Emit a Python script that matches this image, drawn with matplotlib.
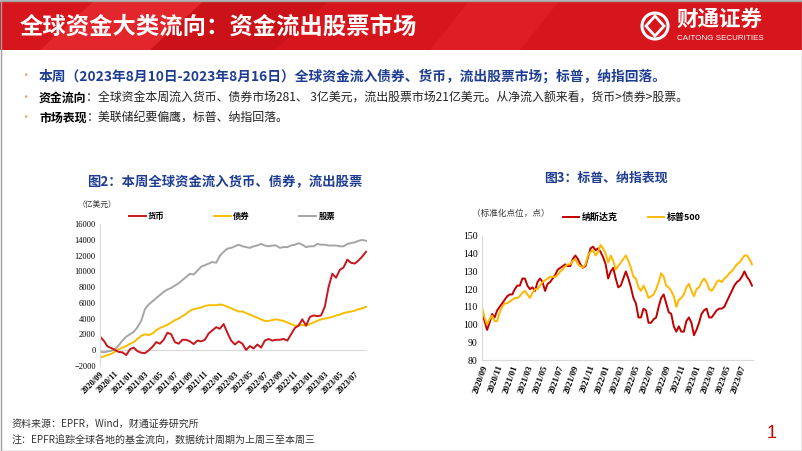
import pandas as pd
import matplotlib
matplotlib.use("Agg")
from matplotlib import pyplot as plt
from matplotlib import dates as mdates
from matplotlib.patches import Rectangle, Polygon, Circle

plt.rcParams['font.family'] = ['Noto Sans CJK SC', 'DejaVu Sans']

# ---- data: 图2 资金流向 (亿美元), semi-monthly readings 2020/09 - 2023/08/16
flow_dates = pd.date_range('2020-09-01', '2023-08-16', periods=72)
money = [1700, 1200, 450, 250, 0, -250, -300, -650, 100, 300,
         -150, -350, -400, -50, 400, 1000, 800, 1300, 2200, 2000,
         1000, 800, 1300, 1300, 1100, 750, 1200, 1100, 1300, 2100,
         2500, 2900, 2700, 3300, 2200, 1200, 700, 1100, 800, 0,
         500, 200, 700, 300, 1200, 1400, 1200, 1300, 1300, 1400,
         1200, 2000, 2800, 3100, 3900, 3100, 4200, 4400, 4300, 4400,
         5500, 8000, 9700, 9200, 10200, 10500, 11500, 11100, 11000, 11400,
         11900, 12500]
bond = [-1000, -800, -650, -500, -200, 100, 300, 500, 800, 1000,
        1400, 1800, 2000, 1900, 2100, 2500, 2800, 3000, 3200, 3500,
        3800, 4000, 4300, 4600, 5000, 5200, 5300, 5400, 5600, 5700,
        5700, 5700, 5800, 5700, 5500, 5300, 5100, 4900, 4900, 4700,
        4500, 4300, 4100, 3900, 3700, 3700, 3800, 3900, 3800, 3700,
        3500, 3300, 3100, 3100, 3200, 3100, 3300, 3500, 3700, 3900,
        4000, 4100, 4200, 4400, 4500, 4700, 4800, 4900, 5000, 5200,
        5300, 5500]
equity = [-200, -300, -200, -100, 100, 600, 1200, 1700, 2000, 2300,
          2900, 3700, 5200, 5800, 6200, 6600, 7000, 7400, 7700, 7900,
          8200, 8500, 8900, 9300, 9700, 9600, 10100, 10600, 10800, 11000,
          11200, 11100, 12000, 12500, 12900, 13000, 13200, 13400, 13200, 13100,
          13000, 13200, 13300, 13500, 13300, 13200, 13300, 13300, 13000, 13100,
          13100, 13300, 13400, 13600, 13400, 13100, 13200, 13200, 13500, 13400,
          13400, 13300, 13300, 13300, 13200, 13200, 13500, 13600, 13700, 13900,
          14000, 13900]
flow_labels = ['货币', '债券', '股票']

# ---- data: 图3 标普、纳指 (标准化点位)
idx_dates = pd.date_range('2020-09-01', '2023-08-16', periods=108)
nasdaq = [106.5, 102, 97, 101, 106, 104, 108, 110, 112, 114,
          116, 117, 117, 120, 122, 122, 126, 126, 122, 120,
          121, 119, 124, 126, 124, 119, 123, 124, 126, 128,
          131, 132, 133, 134, 133, 133, 137, 139, 137, 134,
          132, 133, 138, 143, 144, 142, 143, 141, 138, 134,
          126, 130, 132, 126, 121, 122, 126, 130, 126, 121,
          115, 112, 104, 104, 109, 108, 101, 101, 103, 104,
          110, 115, 117, 112, 107, 106, 99, 96, 99, 96,
          96, 102, 104, 101, 94, 97, 101, 106, 108, 109,
          104, 104, 106, 108, 109, 109, 110, 113, 116, 119,
          122, 124, 125, 127, 130, 127, 125, 122]
spx = [110, 104, 100, 103, 105, 102, 102, 107, 110, 112,
       112, 113, 114, 115, 115, 116, 118, 119, 117, 115,
       118, 120, 120, 122, 124, 125, 126, 127, 127, 127,
       128, 130, 131, 133, 134, 134, 136, 137, 134, 133,
       132, 134, 139, 141, 142, 139, 141, 145, 143, 140,
       135, 139, 136, 131, 133, 135, 137, 139, 136, 132,
       127, 126, 121, 119, 122, 119, 115, 116, 117, 120,
       124, 129, 127, 122, 121, 119, 116, 110, 114, 115,
       117, 121, 123, 119, 116, 120, 121, 124, 126, 124,
       120, 119, 121, 124, 125, 124, 126, 127, 129, 130,
       132, 134, 135, 137, 139, 139, 137, 134]
idx_labels = ['纳斯达克', '标普500']

tick_dates = pd.date_range('2020-09-01', '2023-07-01', freq='2MS')

BLUE = '#1F3E93'
W, H = 802, 451


def fx(x):
    return x / W


def fy(y):
    return 1 - y / H


fig = plt.figure(figsize=(8.02, 4.51), dpi=100)

# background layer in pixel coords
bg = fig.add_axes([0, 0, 1, 1], zorder=0)
bg.set_xlim(0, W)
bg.set_ylim(H, 0)
bg.axis('off')

bg.add_patch(Rectangle((0, 0), W, 50, color='#D7151C', lw=0))
bg.add_patch(Polygon([(95, 0), (205, 0), (150, 50), (40, 50)], color='#E3262B', lw=0))
bg.add_patch(Polygon([(205, 0), (330, 0), (275, 50), (150, 50)], color='#CC1219', lw=0))
bg.add_patch(Polygon([(470, 0), (560, 0), (520, 50), (430, 50)], color='#DE1E24', lw=0))
bg.add_patch(Rectangle((0, 0), W, 2, color='#B8B8B8', lw=0))
bg.text(20, 27, '全球资金大类流向：资金流出股票市场', color='white', fontsize=16.8,
        weight='bold', va='center', ha='left')

# logo
bg.add_patch(Circle((655, 26), 13, fill=False, ec='white', lw=2.2))
bg.add_patch(Polygon([(655, 16), (664, 26), (655, 36), (646, 26)], fill=False, ec='white', lw=2))
bg.text(676, 19, '财通证券', color='white', fontsize=15.5, weight='bold', va='center', ha='left')
bg.text(677, 38, 'CAITONG SECURITIES', color='white', fontsize=5.8, va='center', ha='left',
        family=['Liberation Sans', 'DejaVu Sans'])

# bullets
for yy in (76, 98, 118):
    bg.text(25, yy, '•', color='#E8A66A', fontsize=9, va='center', ha='center')
bg.text(39, 76, '本周（2023年8月10日-2023年8月16日）全球资金流入债券、货币，流出股票市场；标普，纳指回落。',
        color=BLUE, fontsize=9.9, weight='bold', va='center', ha='left')
t2 = bg.text(39, 98, '资金流向', color='black', fontsize=8.6, weight='bold', va='center', ha='left')
bg.annotate('：全球资金本周流入货币、债券市场281、 3亿美元，流出股票市场21亿美元。从净流入额来看，货币>债券>股票。',
            xy=(1, 0.5), xycoords=t2, fontsize=8.6, va='center', ha='left', color='#222222')
t3 = bg.text(39, 118, '市场表现', color='black', fontsize=8.6, weight='bold', va='center', ha='left')
bg.annotate('：美联储纪要偏鹰，标普、纳指回落。',
            xy=(1, 0.5), xycoords=t3, fontsize=8.6, va='center', ha='left', color='#222222')

# chart titles
bg.text(225, 182, '图2：本周全球资金流入货币、债券，流出股票', color=BLUE, fontsize=9.6,
        weight='bold', va='center', ha='center')
bg.text(606, 178, '图3：标普、纳指表现', color=BLUE, fontsize=9.3,
        weight='bold', va='center', ha='center')
bg.text(78, 205, '（亿美元）', fontsize=5.6, va='center', ha='left', color='#333333')
bg.text(472, 213, '（标准化点位，点）', fontsize=6.2, va='center', ha='left', color='#333333')

# footer
bg.text(12, 424, '资料来源：EPFR，Wind，财通证券研究所', fontsize=7.2, va='center', ha='left', color='#333333')
bg.text(12, 441, '注：EPFR追踪全球各地的基金流向，数据统计周期为上周三至本周三', fontsize=7.2,
        va='center', ha='left', color='#333333')
bg.text(772, 434, '1', fontsize=13, color='#C00000', va='center', ha='center',
        family=['Liberation Sans', 'DejaVu Sans'])
bg.add_patch(Rectangle((0.5, 0.5), W - 1, H - 1, fill=False, ec='#A0A0A0', lw=1))

serif = ['Liberation Serif', 'DejaVu Serif']
x0, x1 = pd.Timestamp('2020-09-01'), pd.Timestamp('2023-08-20')

# ---- 图2
ax1 = fig.add_axes([fx(100), fy(365.7), fx(367) - fx(100), (365.7 - 224.3) / H], zorder=2)
ax1.patch.set_alpha(0)
l_eq, = ax1.plot(flow_dates, equity, color='#A5A5A5', lw=1.4)
l_bd, = ax1.plot(flow_dates, bond, color='#F5BE00', lw=1.4)
l_mn, = ax1.plot(flow_dates, money, color='#C8161D', lw=1.4)
ax1.axhline(0, color='#D9D9D9', lw=0.8, zorder=0)
ax1.set_xlim(x0, x1)
ax1.set_ylim(-2000, 16000)
ax1.set_yticks(range(-2000, 16001, 2000))
ax1.set_xticks(tick_dates)
ax1.xaxis.set_major_formatter(mdates.DateFormatter('%Y/%m'))
for s in ('top', 'right', 'bottom'):
    ax1.spines[s].set_visible(False)
ax1.spines['left'].set_color('#D9D9D9')
ax1.tick_params(length=0, pad=3)
for lab in ax1.get_yticklabels():
    lab.set_fontsize(6)
    lab.set_family(serif)
for lab in ax1.get_xticklabels():
    lab.set_fontsize(6)
    lab.set_family(serif)
    lab.set_weight('bold')
    lab.set_rotation(45)
    lab.set_ha('right')
    lab.set_rotation_mode('anchor')
leg1 = ax1.legend([l_mn, l_bd, l_eq], flow_labels, ncol=3, loc='center left',
                  bbox_to_anchor=(fx(129), fy(216)), bbox_transform=fig.transFigure,
                  frameon=False, fontsize=6, handlelength=2.0, handletextpad=0.3,
                  columnspacing=5.9, borderpad=0, borderaxespad=0)
for t in leg1.get_texts():
    t.set_weight('bold')

# ---- 图3
ax2 = fig.add_axes([fx(482), fy(360), fx(753) - fx(482), (360 - 236) / H], zorder=2)
ax2.patch.set_alpha(0)
l_nd, = ax2.plot(idx_dates, nasdaq, color='#C00000', lw=1.4)
l_sp, = ax2.plot(idx_dates, spx, color='#FFB800', lw=1.4)
ax2.set_xlim(x0, x1)
ax2.set_ylim(80, 150)
ax2.set_yticks(range(80, 151, 10))
ax2.set_xticks(tick_dates)
ax2.xaxis.set_major_formatter(mdates.DateFormatter('%Y/%m'))
for s in ('top', 'right'):
    ax2.spines[s].set_visible(False)
ax2.spines['left'].set_color('#D9D9D9')
ax2.spines['bottom'].set_color('#D9D9D9')
ax2.tick_params(length=0, pad=3)
for lab in ax2.get_yticklabels():
    lab.set_fontsize(7)
    lab.set_family(serif)
for lab in ax2.get_xticklabels():
    lab.set_fontsize(6.5)
    lab.set_family(serif)
    lab.set_weight('bold')
    lab.set_rotation(70)
    lab.set_ha('right')
    lab.set_rotation_mode('anchor')
leg2 = ax2.legend([l_nd, l_sp], idx_labels, ncol=2, loc='center left',
                  bbox_to_anchor=(fx(563), fy(217)), bbox_transform=fig.transFigure,
                  frameon=False, fontsize=6.5, handlelength=1.8, handletextpad=0.3,
                  columnspacing=3.3, borderpad=0, borderaxespad=0)
for t in leg2.get_texts():
    t.set_weight('bold')

fig.savefig('out.png', dpi=100)
